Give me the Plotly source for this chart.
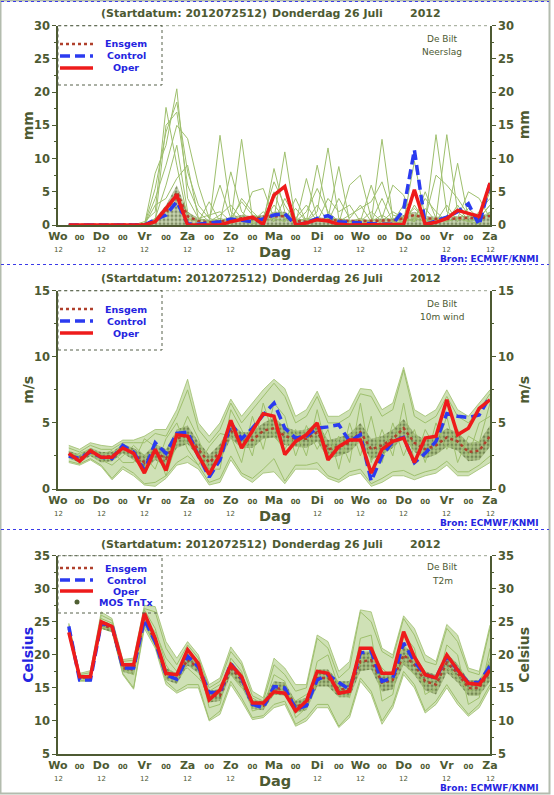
import plotly.graph_objects as go

# time axis: hours after start 2012-07-25 12 UTC (Wo 12)
hours = [6, 12, 18, 24, 30, 36, 42, 48, 54, 60, 66, 72, 78, 84, 90, 96, 102, 108, 114, 120,
         126, 132, 138, 144, 150, 156, 162, 168, 174, 180, 186, 192, 198, 204, 210, 216, 222, 228, 234, 240]
tick_hours = [0, 12, 24, 36, 48, 60, 72, 84, 96, 108, 120, 132, 144, 156, 168, 180, 192, 204, 216, 228, 240]
tick_names = ["Wo", "00", "Do", "00", "Vr", "00", "Za", "00", "Zo", "00", "Ma",
              "00", "Di", "00", "Wo", "00", "Do", "00", "Vr", "00", "Za"]

# neerslag (mm)
rain_oper = [0, 0, 0, 0, 0, 0, 0, 0, 0.5, 2.5, 4.5, 0, 0, 0, 0, 0.5, 0.8, 1.2, 0.1, 4.5,
             5.8, 0, 0.3, 0.8, 0.6, 0.1, 0, 0, 0, 0, 0, 0.1, 5.3, 0.1, 0.4, 1.0, 2.2, 1.8, 1.3, 6.3]
rain_control = [0, 0, 0, 0, 0, 0, 0, 0, 0.8, 1.5, 3.5, 0.2, 0.1, 0.3, 0.5, 0.9, 0.7, 0.5, 0.9, 1.5,
                1.7, 0, 0.3, 1.0, 1.4, 0.5, 0.4, 0.3, 0.1, 0.1, 0.1, 2.3, 11.3, 0.1, 0.6, 1.2, 2.0, 3.2, 0, 6.3]
rain_ensgem = [0, 0, 0, 0, 0, 0, 0, 0.1, 0.5, 1.8, 5.0, 1.3, 0.6, 0.4, 0.5, 0.8, 1.0, 0.9, 1.2, 1.3,
               1.3, 0.6, 0.5, 0.8, 0.7, 0.7, 0.6, 0.6, 0.6, 0.7, 0.7, 1.0, 1.5, 1.0, 0.9, 0.9, 1.0, 1.1, 0.9, 1.4]
rain_core = [0, 0, 0, 0, 0, 0, 0, 0.2, 1.0, 3.0, 6.0, 2.0, 1.0, 0.8, 0.8, 1.2, 1.5, 1.3, 1.5, 2.0,
             2.0, 1.0, 0.8, 1.2, 1.0, 1.0, 0.8, 0.8, 0.8, 1.0, 1.0, 1.5, 2.0, 1.3, 1.2, 1.2, 1.3, 1.4, 1.2, 2.0]
rain_m1 = [0, 0, 0, 0, 0, 0, 0, 0.5, 2.0, 17.7, 9.0, 1.0, 0.5, 0.2, 13.5, 2.0, 0.5, 0.2, 0.5, 3.0,
           1.0, 0.2, 0.5, 2.0, 11.6, 1.0, 0.5, 0.2, 0.5, 1.5, 0.5, 0.2, 3.0, 0.5, 13.6, 2.0, 1.0, 0.5, 0.2, 2.0]
rain_m2 = [0, 0, 0, 0, 0, 0, 0, 0, 7.8, 12.0, 20.5, 4.0, 1.0, 0.5, 1.0, 0.5, 12.9, 1.0, 0.5, 1.0,
           11.0, 0.5, 1.0, 0.5, 1.0, 8.8, 0.5, 1.0, 0.5, 12.9, 1.0, 0.5, 1.0, 0.5, 1.0, 13.6, 2.0, 0.5, 1.0, 3.0]
rain_m3 = [0, 0, 0, 0, 0, 0, 0, 0, 4.0, 9.0, 15.0, 13.0, 6.0, 1.0, 0.5, 8.0, 2.0, 0.5, 0.2, 8.5,
           2.0, 0.2, 7.0, 1.0, 0.5, 0.2, 6.0, 7.5, 1.0, 0.5, 0.2, 0.5, 9.6, 1.0, 0.5, 1.0, 9.3, 1.0, 0.5, 6.5]
rain_m4 = [0, 0, 0, 0, 0, 0, 0, 0, 1.0, 6.0, 12.0, 2.0, 0.5, 3.5, 0.5, 0.2, 1.0, 5.0, 5.5, 1.0,
           0.5, 4.0, 0.5, 9.0, 1.5, 0.5, 0.2, 0.5, 6.0, 1.0, 6.0, 4.5, 0.5, 5.0, 1.0, 0.5, 1.0, 5.0, 4.0, 1.0]
rain_m5 = [0, 0, 0, 0, 0, 0, 0, 0, 0.5, 15.0, 17.0, 6.0, 2.0, 0.5, 1.5, 3.0, 1.0, 0.5, 2.0, 0.5,
           4.0, 1.0, 3.0, 0.5, 4.0, 2.0, 3.0, 0.5, 2.0, 0.5, 2.0, 1.0, 0.5, 2.5, 0.5, 3.0, 0.5, 2.5, 1.0, 5.0]
rain_m6 = [0, 0, 0, 0, 0, 0, 0, 0, 3.0, 4.0, 7.0, 9.0, 1.0, 1.5, 2.0, 0.5, 4.0, 2.0, 0.5, 5.0,
           0.5, 2.5, 0.5, 3.0, 0.5, 4.0, 1.0, 3.0, 0.5, 4.0, 0.5, 3.0, 1.0, 4.0, 2.0, 0.5, 3.0, 0.5, 2.0, 4.0]
rain_m7 = [0, 0, 0, 0, 0, 0, 0, 0, 5.5, 14.0, 18.5, 8.0, 3.0, 1.0, 6.0, 1.0, 3.5, 1.5, 1.0, 6.5,
           3.0, 0.5, 2.0, 5.5, 2.0, 0.5, 1.5, 2.5, 3.5, 6.5, 1.5, 1.0, 2.5, 1.0, 7.5, 6.0, 4.0, 1.5, 1.0, 3.0]

# 10m wind (m/s)
wind_oper = [2.7, 2.1, 2.9, 2.4, 2.4, 3.1, 2.7, 1.2, 3.0, 1.4, 4.1, 4.0, 2.5, 1.1, 2.6, 5.2, 3.1, 4.4, 5.7, 5.5,
             2.6, 3.6, 4.1, 5.0, 2.2, 3.2, 3.7, 3.7, 1.2, 3.0, 3.6, 3.85, 2.0, 3.85, 4.0, 6.75, 4.1, 4.6, 6.1, 6.75]
wind_control = [2.5, 2.3, 2.8, 2.4, 2.3, 3.3, 2.8, 1.4, 3.5, 2.7, 4.2, 4.3, 2.5, 0.9, 2.2, 5.0, 3.8, 4.6, 5.6, 6.5,
                4.6, 3.85, 4.0, 4.6, 4.7, 4.86, 3.6, 4.1, 0.6, 2.5, 3.6, 3.9, 2.0, 2.7, 3.6, 5.7, 5.5, 5.4, 5.6, 7.0]
wind_ensgem = [2.6, 2.3, 2.8, 2.4, 2.5, 3.1, 2.7, 2.0, 2.8, 2.3, 3.8, 4.1, 3.0, 2.0, 2.8, 4.4, 3.7, 3.7, 4.4, 4.6,
               4.0, 3.8, 3.8, 4.3, 3.0, 3.2, 3.5, 4.3, 3.0, 3.3, 3.8, 4.6, 3.5, 3.0, 3.3, 3.9, 3.6, 2.8, 2.9, 4.0]
wind_hi = [3.3, 3.0, 3.5, 3.3, 3.2, 3.7, 3.7, 4.0, 4.5, 4.5, 6.0, 8.3, 5.0, 4.0, 5.0, 6.8, 5.5, 6.5, 7.5, 8.3,
           7.6, 5.5, 6.0, 7.4, 5.5, 5.5, 6.0, 7.6, 7.5, 6.0, 6.5, 9.2, 6.0, 5.5, 6.0, 7.5, 6.0, 5.5, 6.5, 7.5]
wind_lo = [2.0, 1.8, 2.2, 1.7, 0.7, 1.5, 1.0, 0.3, 0.2, 0.8, 1.8, 2.0, 1.5, 0.3, 0.5, 2.2, 1.0, 0.5, 1.2, 1.3,
           0.4, 1.5, 1.5, 1.5, 0.8, 0.5, 1.0, 1.2, 0.2, 0.5, 1.0, 1.0, 0.7, 1.0, 1.2, 1.8, 1.0, 1.0, 1.5, 2.0]
wind_core_hi = [2.9, 2.6, 3.1, 2.8, 2.8, 3.4, 3.1, 2.6, 3.4, 3.0, 4.5, 4.8, 3.6, 2.6, 3.4, 5.0, 4.3, 4.3, 5.0, 5.4,
                4.7, 4.4, 4.5, 5.0, 3.7, 3.9, 4.2, 5.0, 3.8, 4.0, 4.5, 5.3, 4.2, 3.7, 4.0, 4.6, 4.3, 3.5, 3.6, 4.8]
wind_core_lo = [2.3, 2.0, 2.5, 2.0, 2.1, 2.7, 2.2, 1.4, 2.2, 1.7, 3.1, 3.4, 2.4, 1.4, 2.2, 3.8, 3.1, 3.1, 3.8, 3.9,
                3.3, 3.2, 3.1, 3.6, 2.3, 2.5, 2.8, 3.6, 2.2, 2.6, 3.1, 3.9, 2.8, 2.3, 2.6, 3.2, 2.9, 2.1, 2.2, 3.2]
wind_m1 = [3.1, 2.8, 3.3, 3.0, 3.0, 3.5, 3.5, 3.5, 4.2, 4.0, 5.5, 7.5, 4.5, 3.5, 4.5, 6.5, 5.0, 6.0, 7.0, 8.0,
           7.0, 5.0, 5.5, 7.0, 5.0, 5.0, 5.5, 7.2, 7.0, 5.5, 6.0, 9.0, 5.5, 5.0, 5.5, 7.0, 5.5, 5.0, 6.0, 7.2]
wind_m2 = [2.1, 1.9, 2.3, 1.8, 0.8, 1.7, 1.2, 0.4, 0.5, 1.0, 2.0, 2.5, 1.8, 0.5, 0.8, 2.5, 1.2, 0.8, 1.5, 2.3,
           0.6, 1.8, 1.8, 2.0, 1.0, 0.7, 1.3, 1.5, 0.4, 0.8, 1.3, 1.4, 1.0, 1.3, 1.5, 2.1, 1.3, 1.3, 1.8, 2.5]
wind_m3 = [2.8, 2.4, 2.6, 2.2, 1.8, 2.5, 3.3, 2.5, 1.5, 3.8, 5.0, 3.0, 1.8, 3.2, 4.2, 4.0, 2.0, 5.5, 3.0, 6.5,
           5.5, 2.5, 4.8, 3.0, 4.5, 1.5, 5.0, 2.5, 5.5, 2.0, 5.0, 2.5, 4.5, 2.0, 5.0, 3.0, 4.5, 2.5, 5.0, 5.5]
wind_m4 = [2.4, 2.7, 3.0, 2.6, 2.9, 2.0, 2.0, 3.8, 3.2, 1.0, 3.5, 5.5, 3.8, 1.5, 1.5, 6.0, 4.5, 2.5, 6.5, 4.0,
           3.0, 4.5, 2.5, 6.0, 2.5, 4.0, 2.0, 6.5, 2.0, 4.5, 2.5, 6.5, 2.0, 4.5, 3.0, 5.5, 2.0, 4.0, 3.5, 6.5]

# T2m (Celsius)
temp_oper = [23.4, 16.7, 16.7, 25.0, 24.3, 18.5, 18.5, 26.3, 22.5, 17.2, 17.0, 20.8, 18.7, 13.2, 14.7, 18.5, 16.7, 12.7, 12.7, 14.4,
             14.2, 11.5, 13.0, 17.5, 17.2, 14.2, 14.5, 21.0, 21.0, 17.2, 17.2, 23.5, 19.7, 17.0, 16.5, 20.0, 17.7, 15.7, 15.5, 17.7]
temp_control = [24.3, 16.2, 16.2, 24.7, 24.5, 18.0, 18.0, 25.3, 22.0, 17.0, 16.3, 19.8, 18.2, 14.3, 14.3, 18.7, 16.5, 12.5, 12.0, 15.2,
                15.0, 11.8, 12.3, 16.2, 17.0, 15.8, 14.8, 20.3, 20.5, 16.0, 16.5, 21.8, 19.0, 17.0, 16.5, 19.8, 17.7, 15.8, 15.8, 18.3]
temp_ensgem = [24.0, 16.6, 16.6, 24.6, 24.0, 18.0, 17.8, 25.5, 22.0, 17.0, 16.4, 19.3, 18.0, 13.8, 13.8, 18.0, 16.2, 12.5, 12.3, 15.0,
               14.8, 12.2, 12.6, 16.5, 16.5, 14.8, 14.8, 19.0, 19.2, 15.8, 16.2, 20.0, 18.5, 16.0, 15.5, 18.8, 17.2, 15.0, 15.0, 17.5]
temp_hi = [24.8, 17.2, 17.6, 26.5, 25.5, 19.3, 19.5, 27.5, 27.3, 22.0, 19.5, 22.0, 20.0, 15.5, 16.5, 21.2, 19.0, 14.5, 13.5, 19.5,
           18.0, 15.5, 15.5, 23.0, 22.0, 17.5, 19.0, 26.8, 26.5, 21.0, 20.0, 25.9, 24.0, 20.0, 19.0, 24.6, 23.0, 18.0, 17.5, 24.5]
temp_lo = [23.0, 16.0, 16.0, 24.0, 23.5, 17.0, 14.8, 24.0, 21.0, 15.5, 14.2, 15.0, 15.0, 10.0, 11.0, 15.5, 13.0, 10.2, 10.5, 12.0,
           12.5, 9.2, 10.0, 12.0, 12.0, 9.0, 10.5, 16.0, 14.0, 9.5, 12.0, 17.0, 15.0, 11.2, 12.5, 15.0, 12.5, 10.7, 12.0, 15.0]
temp_core_hi = [24.4, 16.9, 17.0, 25.2, 24.6, 18.5, 18.4, 26.0, 23.0, 18.0, 17.2, 20.2, 18.8, 14.6, 14.8, 19.0, 17.2, 13.2, 13.0, 16.0,
                15.8, 13.0, 13.5, 17.8, 17.8, 16.0, 16.0, 20.5, 20.5, 17.2, 17.5, 21.5, 20.0, 17.5, 17.0, 20.2, 18.6, 16.2, 16.2, 19.0]
temp_core_lo = [23.5, 16.3, 16.2, 24.0, 23.4, 17.4, 17.0, 24.8, 21.2, 16.2, 15.6, 18.4, 17.2, 12.8, 13.0, 17.0, 15.2, 11.8, 11.6, 14.0,
                13.8, 11.2, 11.6, 15.2, 15.2, 13.6, 13.6, 17.5, 17.8, 14.4, 14.8, 18.5, 17.0, 14.6, 14.0, 17.3, 15.8, 13.8, 13.8, 16.0]
temp_m1 = [24.6, 17.0, 17.3, 26.0, 25.2, 19.0, 19.2, 27.0, 26.5, 21.0, 18.5, 21.5, 19.5, 15.0, 16.0, 20.5, 18.5, 13.8, 13.0, 18.5,
           17.0, 14.5, 15.0, 22.5, 21.0, 16.5, 18.0, 26.5, 25.0, 20.5, 19.5, 25.5, 23.0, 19.0, 18.5, 24.0, 22.0, 17.5, 17.0, 24.0]
temp_m2 = [23.2, 16.1, 16.2, 24.3, 23.8, 17.2, 15.0, 24.5, 21.5, 16.0, 14.5, 15.5, 15.5, 10.2, 11.5, 16.0, 13.5, 10.5, 10.8, 12.5,
           13.0, 9.5, 10.5, 12.5, 12.5, 9.2, 11.0, 16.5, 14.5, 10.0, 12.5, 17.5, 15.5, 11.5, 13.0, 15.5, 13.0, 11.0, 12.5, 15.5]
temp_m3 = [23.8, 16.5, 16.8, 25.5, 24.8, 18.8, 18.0, 26.8, 24.0, 18.5, 16.0, 21.0, 19.0, 12.0, 12.5, 19.5, 17.5, 11.5, 12.0, 17.0,
           16.0, 10.5, 12.0, 19.0, 20.0, 15.0, 13.5, 22.5, 23.0, 13.0, 14.0, 23.0, 21.0, 14.0, 15.0, 21.5, 20.0, 12.5, 13.5, 21.0]
temp_m4 = [24.2, 16.8, 16.4, 24.8, 24.2, 17.8, 17.0, 25.0, 23.5, 19.5, 17.5, 18.0, 16.5, 14.5, 15.5, 17.0, 15.0, 13.5, 12.5, 14.0,
           15.0, 13.0, 14.0, 15.5, 17.5, 14.0, 16.0, 18.5, 20.5, 18.0, 16.5, 19.0, 17.0, 15.5, 16.5, 18.0, 16.5, 14.5, 15.0, 19.5]

W, H = 554, 795
OLIVE = "#4d5a32"
LIGHT = "#9ebf6d"
DARK = "#3e4b20"
RED = "#ee1b1b"
BLUE = "#2b3bf0"
TXTBLUE = "#2424e0"
BROWN = "#b0402c"
FONT = "DejaVu Sans"
X0, X1 = 58, 490


def px(x):
    return x / W


def py(y):
    return 1 - y / H


def text(x, y, s, size, color, xanchor="center", **kw):
    annotations.append(dict(x=x, y=y, xref=kw.pop("xref", "paper"), yref="paper", text=s, showarrow=False,
                            xanchor=xanchor, yanchor="middle", borderpad=0,
                            font=dict(family=FONT, size=size, color=color), **kw))


panels = [
    dict(top=25.7, bottom=225, rng=[0, 30], unit="mm", unit_col=OLIVE, var="Neerslag",
         oper=rain_oper, control=rain_control, ensgem=rain_ensgem, core_hi=rain_core, core_lo=None,
         hi=None, lo=None, members=[rain_m1, rain_m2, rain_m3, rain_m4, rain_m5, rain_m6, rain_m7],
         leg_bottom=85, leg_y=[44, 56, 68], head=14, info=[39, 52], bron=259),
    dict(top=290.7, bottom=489, rng=[0, 15], unit="m/s", unit_col=OLIVE, var="10m wind",
         oper=wind_oper, control=wind_control, ensgem=wind_ensgem, core_hi=wind_core_hi, core_lo=wind_core_lo,
         hi=wind_hi, lo=wind_lo, members=[wind_m1, wind_m2, wind_m3, wind_m4],
         leg_bottom=350, leg_y=[309, 321, 333], head=279, info=[304, 317], bron=523),
    dict(top=555.7, bottom=754, rng=[5, 35], unit="Celsius", unit_col=TXTBLUE, var="T2m",
         oper=temp_oper, control=temp_control, ensgem=temp_ensgem, core_hi=temp_core_hi, core_lo=temp_core_lo,
         hi=temp_hi, lo=temp_lo, members=[temp_m1, temp_m2, temp_m3, temp_m4],
         leg_bottom=613, leg_y=[568, 580, 591, 602], head=544, info=[567, 581], bron=788),
]

fig = go.Figure()
shapes = []
annotations = []

x_ticktext = [n if n != "00" else '<span style="font-size:7px">00</span>' for n in tick_names]

for i, p in enumerate(panels, start=1):
    xa = "x" if i == 1 else f"x{i}"
    ya = "y" if i == 1 else f"y{i}"
    yr = f"y{i + 3}"

    def line(y, **kw):
        fig.add_trace(go.Scatter(x=hours, y=y, xaxis=xa, yaxis=ya, mode="lines",
                                 hoverinfo="skip", showlegend=False, **kw))

    # ensemble plume
    if p["hi"] is not None:
        line(p["lo"], line=dict(width=0.8, color=LIGHT))
        line(p["hi"], line=dict(width=0.8, color=LIGHT), fill="tonexty",
             fillcolor="rgba(160,195,110,0.5)")
    if p["core_lo"] is not None:
        line(p["core_lo"], line=dict(width=0, color=LIGHT))
        fill = "tonexty"
    else:
        fill = "tozeroy"
    line(p["core_hi"], line=dict(width=0, color=LIGHT), fill=fill,
         fillpattern=dict(shape=".", fgcolor=DARK, bgcolor="rgba(130,160,80,0.45)", size=4, solidity=0.45))
    for m in p["members"]:
        line(m, line=dict(width=1, color=LIGHT))
    line(p["ensgem"], line=dict(width=2.5, color=BROWN, dash="dot"))
    line(p["control"], line=dict(width=3.5, color=BLUE, dash="10px,5px"))
    line(p["oper"], line=dict(width=3.5, color=RED))
    fig.add_trace(go.Scatter(x=[None], y=[None], xaxis=xa, yaxis=yr, showlegend=False, hoverinfo="skip"))

    dom_y = [py(p["bottom"]), py(p["top"])]
    yticks = dict(range=p["rng"], dtick=5, tick0=0, showgrid=False, zeroline=False, automargin=False,
                  showline=True, linecolor=OLIVE, linewidth=1.5,
                  ticks="outside", ticklen=4, tickcolor=OLIVE,
                  minor=dict(dtick=2.5, ticks="outside", ticklen=2, tickcolor=OLIVE),
                  tickfont=dict(family=FONT, size=11.5, color=OLIVE, weight="bold"), fixedrange=True)
    fig.update_layout(**{
        ("xaxis" if i == 1 else f"xaxis{i}"): dict(
            domain=[px(X0), px(X1)], anchor=ya, range=[0, 240], tickvals=tick_hours, ticktext=x_ticktext,
            tickfont=dict(family=FONT, size=11, color=OLIVE, weight="bold"), ticks="", showgrid=False,
            zeroline=False, showline=True, linecolor=OLIVE, linewidth=1.5, fixedrange=True, automargin=False),
        ("yaxis" if i == 1 else f"yaxis{i}"): dict(domain=dom_y, anchor=xa, **yticks),
        f"yaxis{i + 3}": dict(overlaying=ya, anchor=xa, side="right", **yticks),
    })

    top, bot = p["top"], p["bottom"]
    # dotted top border of plot area
    shapes.append(dict(type="line", xref="paper", yref="paper", x0=px(X0), x1=px(X1), y0=py(top), y1=py(top),
                       line=dict(color="#9aa391", width=1, dash="dot")))
    # legend box
    shapes.append(dict(type="rect", xref="paper", yref="paper", x0=px(X0), x1=px(162), y0=py(p["leg_bottom"]),
                       y1=py(top), line=dict(color="#56614a", width=1, dash="dot")))
    samples = [("Ensgem", dict(color=BROWN, width=2.5, dash="dot")),
               ("Control", dict(color=BLUE, width=3.5, dash="10px,5px")),
               ("Oper", dict(color=RED, width=3.5))]
    if len(p["leg_y"]) == 4:
        samples.append(("MOS TnTx", None))
    for (label, st), ly in zip(samples, p["leg_y"]):
        if st is not None:
            shapes.append(dict(type="line", xref="paper", yref="paper", x0=px(60), x1=px(93),
                               y0=py(ly), y1=py(ly), line=st))
        else:
            shapes.append(dict(type="circle", xref="paper", yref="paper", x0=px(74.5), x1=px(79.5),
                               y0=py(ly + 2.5), y1=py(ly - 2.5), fillcolor="#4f5f32", line=dict(width=0)))
        text(px(126), py(ly), f"<b>{label}</b>", 9.5, TXTBLUE)

    # panel heading
    for txt, xl in [("(Startdatum: 2012072512)", 100), ("Donderdag 26 Juli", 271), ("2012", 409)]:
        text(px(xl), py(p["head"]), f"<b>{txt}</b>", 11, OLIVE, xanchor="left")
    for txt, yy in zip(["De Bilt", p["var"]], p["info"]):
        text(px(442), py(yy), txt, 9, OLIVE)
    text(px(489), py(p["bron"]), "<b>Bron: ECMWF/KNMI</b>", 9, TXTBLUE)
    # axis titles
    mid = (top + bot) / 2
    text(px(28), py(mid), f"<b>{p['unit']}</b>", 14, p["unit_col"], textangle=-90)
    text(px(524), py(mid), f"<b>{p['unit']}</b>", 14, OLIVE, textangle=-90)
    text(px(275), py(bot + 27), "<b>Dag</b>", 14.5, OLIVE)
    # small "12" under each day name (the one under Ma is hidden behind "Dag")
    for h, n in zip(tick_hours, tick_names):
        if n != "00" and h != 120:
            text(h, py(bot + 25), "12", 7, OLIVE, xref=xa)

# outer frame and panel separators
shapes.append(dict(type="rect", xref="paper", yref="paper", x0=px(0.5), x1=px(549.5), y0=py(793.5), y1=py(0.5),
                   line=dict(color="#b3bcae", width=2)))
for yy in [1.5, 264.5, 529.5]:
    shapes.append(dict(type="line", xref="paper", yref="paper", x0=px(1), x1=px(549), y0=py(yy), y1=py(yy),
                       line=dict(color="#3a3ae8", width=1, dash="dot")))

fig.update_layout(width=W, height=H, margin=dict(l=0, r=0, t=0, b=0), showlegend=False,
                  paper_bgcolor="white", plot_bgcolor="white", hovermode=False,
                  shapes=shapes, annotations=annotations)

fig.write_html("out.html", config={"displayModeBar": False},
               post_script="document.body.style.margin = '0px';")
